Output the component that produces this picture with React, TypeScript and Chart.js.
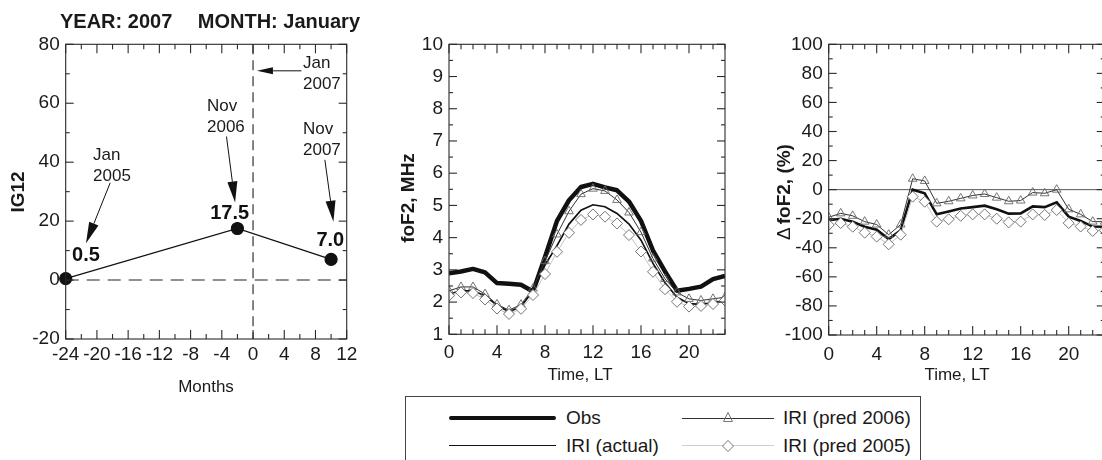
import React, { useEffect, useRef } from "react";
import { Chart, registerables } from "chart.js";

Chart.register(...registerables);

const FONT = "'Liberation Sans', Arial, Helvetica, sans-serif";

// ---------- Header ----------
const yearTitle = "YEAR: 2007";
const monthTitle = "MONTH: January";

// ---------- Panel 1: IG12 vs months ----------
const ig12Months = [-24, -2, 10];
const ig12Values = [0.5, 17.5, 7.0];
const ig12ValueText = ["0.5", "17.5", "7.0"];
const ig12ValueTextAt = [[-21.4, 8.2], [-3.0, 22.7], [9.9, 13.4]];
const ig12NoteLines = [["Jan", "2005"], ["Nov", "2006"], ["Jan", "2007"], ["Nov", "2007"]];
const ig12NoteAt = [[-20.5, 42.4], [-5.9, 58.8], [6.4, 73.7], [6.4, 51.3]];
const ig12ArrowFrom = [[-18.3, 33.0], [-3.4, 48.7], [6.2, 71.0], [9.2, 40.8]];
const ig12ArrowTo = [[-21.4, 12.5], [-2.3, 26.3], [0.5, 71.0], [10.3, 19.8]];

// ---------- Panel 2: foF2 ----------
const hours = [0, 1, 2, 3, 4, 5, 6, 7, 8, 9, 10, 11, 12, 13, 14, 15, 16, 17, 18, 19, 20, 21, 22, 23];
const foF2Obs = [2.89, 2.95, 3.03, 2.92, 2.59, 2.57, 2.54, 2.33, 3.4, 4.52, 5.16, 5.57, 5.67, 5.56, 5.47, 5.12, 4.52, 3.6, 2.95, 2.35, 2.41, 2.48, 2.71, 2.81];
const foF2Actual = [2.25, 2.35, 2.35, 2.2, 1.9, 1.7, 1.86, 2.35, 3.15, 3.75, 4.42, 4.85, 5.02, 4.96, 4.75, 4.42, 3.92, 3.2, 2.6, 2.15, 1.95, 1.93, 1.98, 2.05];
const foF2Pred2006 = [2.35, 2.47, 2.47, 2.25, 1.93, 1.75, 1.92, 2.42, 3.27, 4.1, 4.82, 5.35, 5.52, 5.45, 5.17, 4.78, 4.17, 3.35, 2.72, 2.3, 2.1, 2.05, 2.1, 2.15];
const foF2Pred2005 = [2.2, 2.3, 2.28, 2.08, 1.8, 1.63, 1.79, 2.22, 2.87, 3.56, 4.15, 4.55, 4.72, 4.65, 4.44, 4.08, 3.57, 2.94, 2.4, 2.01, 1.86, 1.88, 1.94, 2.05];

// ---------- Panel 3: delta foF2 (%) ----------
const dActual = [-21, -20, -22, -25.5, -27.5, -34, -28, 0, -2.5, -17, -15, -13, -12, -11, -13.5, -16.5, -16.3, -11.5, -12, -8.7, -18.6, -21.5, -25.4, -25.5];
const dPred2006 = [-19, -16.3, -18, -22, -24, -31, -24, 7.5, 6, -9.4, -8, -6, -4, -3, -5.5, -8, -7.5, -2, -2.5, 0, -13.5, -17, -22, -22];
const dPred2005 = [-24.3, -23, -25.5, -29.6, -32.3, -37.6, -31, -4.8, -8.3, -22, -20.4, -18, -17, -17, -20, -22.5, -22, -17, -17.4, -14, -23, -25.4, -28.4, -28];

// ---------- Legend ----------
const legendLabels = ["Obs", "IRI (actual)", "IRI (pred 2006)", "IRI (pred 2005)"];

const W = 1120;
const H = 460;

function pts(xs: number[], ys: number[]) {
  return xs.map((x, i) => ({ x, y: ys[i] }));
}

function line(ctx: CanvasRenderingContext2D, x1: number, y1: number, x2: number, y2: number) {
  ctx.beginPath();
  ctx.moveTo(x1, y1);
  ctx.lineTo(x2, y2);
  ctx.stroke();
}

function arrow(ctx: CanvasRenderingContext2D, x1: number, y1: number, x2: number, y2: number, len: number, hw: number) {
  const ang = Math.atan2(y2 - y1, x2 - x1);
  const bx = x2 - Math.cos(ang) * len;
  const by = y2 - Math.sin(ang) * len;
  line(ctx, x1, y1, bx, by);
  ctx.beginPath();
  ctx.moveTo(x2, y2);
  ctx.lineTo(bx + Math.sin(ang) * hw, by - Math.cos(ang) * hw);
  ctx.lineTo(bx - Math.sin(ang) * hw, by + Math.cos(ang) * hw);
  ctx.closePath();
  ctx.fill();
}

type Title = { parts: { text: string; bold: boolean }[]; x: number; y: number; rot?: boolean; size: number; align?: string };

function drawTitle(ctx: CanvasRenderingContext2D, t: Title) {
  ctx.save();
  ctx.fillStyle = "#1a1a1a";
  ctx.textBaseline = "middle";
  ctx.textAlign = "left";
  const fonts = t.parts.map((p) => `${p.bold ? "bold " : ""}${t.size}px ${FONT}`);
  const widths = t.parts.map((p, i) => {
    ctx.font = fonts[i];
    return ctx.measureText(p.text).width;
  });
  const gap = t.parts.length > 1 ? 3 : 0;
  const total = widths.reduce((a, b) => a + b, 0) + gap * (t.parts.length - 1);
  ctx.translate(t.x, t.y);
  if (t.rot) ctx.rotate(-Math.PI / 2);
  let start = -total / 2;
  if (t.align === "left") start = 0;
  if (t.align === "right") start = -total;
  t.parts.forEach((p, i) => {
    ctx.font = fonts[i];
    ctx.fillText(p.text, start, 0);
    start += widths[i] + gap;
  });
  ctx.restore();
}

type Deco = {
  id: string;
  xMinor: number;
  xMajor: number;
  yMinor: number;
  yMajor: number;
  titles: Title[];
  under?: (chart: any) => void;
  over?: (chart: any) => void;
};

function decoPlugin(d: Deco) {
  return {
    id: d.id,
    beforeDatasetsDraw(chart: any) {
      if (d.under) d.under(chart);
    },
    afterDatasetsDraw(chart: any) {
      const { ctx, chartArea: a, scales } = chart;
      const xs = scales.x;
      const ys = scales.y;
      ctx.save();
      ctx.strokeStyle = "#2a2a2a";
      ctx.lineWidth = 1.1;
      ctx.setLineDash([]);
      ctx.strokeRect(a.left, a.top, a.right - a.left, a.bottom - a.top);
      const isMajor = (v: number, m: number) => Math.abs(v / m - Math.round(v / m)) < 1e-6;
      const nx = Math.round((xs.max - xs.min) / d.xMinor);
      for (let i = 0; i <= nx; i++) {
        const v = xs.min + i * d.xMinor;
        const px = xs.getPixelForValue(v);
        const len = isMajor(v, d.xMajor) ? 9 : 5;
        line(ctx, px, a.bottom, px, a.bottom - len);
        line(ctx, px, a.top, px, a.top + len);
      }
      const ny = Math.round((ys.max - ys.min) / d.yMinor);
      for (let i = 0; i <= ny; i++) {
        const v = ys.min + i * d.yMinor;
        const py = ys.getPixelForValue(v);
        const len = isMajor(v, d.yMajor) ? 8 : 4;
        line(ctx, a.left, py, a.left + len, py);
        line(ctx, a.right, py, a.right - len, py);
      }
      ctx.restore();
      if (d.over) d.over(chart);
    },
    afterDraw(chart: any) {
      d.titles.forEach((t) => drawTitle(chart.ctx, t));
    },
  };
}

function scalesFor(xMin: number, xMax: number, xStep: number, xPad: number, yMin: number, yMax: number, yStep: number) {
  const tickFont = { family: FONT, size: 19 };
  return {
    x: {
      type: "linear",
      position: "bottom",
      min: xMin,
      max: xMax,
      afterFit: (s: any) => {
        s.height = 40;
      },
      grid: { display: false, drawTicks: false },
      border: { display: false },
      ticks: {
        stepSize: xStep,
        includeBounds: false,
        autoSkip: false,
        maxRotation: 0,
        padding: xPad,
        color: "#1a1a1a",
        font: tickFont,
        callback: (v: any) => String(v),
      },
    },
    y: {
      type: "linear",
      position: "left",
      min: yMin,
      max: yMax,
      afterFit: (s: any) => {
        s.width = 60;
      },
      grid: { display: false, drawTicks: false },
      border: { display: false },
      ticks: {
        stepSize: yStep,
        includeBounds: false,
        autoSkip: false,
        padding: 6,
        color: "#1a1a1a",
        font: tickFont,
        callback: (v: any) => String(v),
      },
    },
  };
}

function baseOptions(pad: { left: number; right: number; top: number; bottom: number }, scales: any) {
  return {
    responsive: false,
    animation: false,
    events: [],
    layout: { padding: pad },
    plugins: { legend: { display: false }, tooltip: { enabled: false } },
    elements: { line: { tension: 0 } },
    scales,
  };
}

function ig12Config(): any {
  const deco = decoPlugin({
    id: "ig12deco",
    xMinor: 2,
    xMajor: 4,
    yMinor: 10,
    yMajor: 20,
    titles: [
      { parts: [{ text: yearTitle, bold: true }], x: 60, y: 22, size: 20, align: "left" },
      { parts: [{ text: monthTitle, bold: true }], x: 360, y: 22, size: 20, align: "right" },
      { parts: [{ text: "IG12", bold: true }], x: 19, y: 192, rot: true, size: 19 },
      { parts: [{ text: "Months", bold: false }], x: 206, y: 387, size: 17 },
    ],
    under: (chart: any) => {
      const { ctx, chartArea: a, scales } = chart;
      ctx.save();
      ctx.strokeStyle = "#222";
      ctx.lineWidth = 1.1;
      ctx.setLineDash([13, 8]);
      const y0 = scales.y.getPixelForValue(0);
      line(ctx, a.left, y0, a.right, y0);
      ctx.setLineDash([10, 6]);
      const x0 = scales.x.getPixelForValue(0);
      line(ctx, x0, a.top, x0, a.bottom);
      ctx.restore();
    },
    over: (chart: any) => {
      const { ctx, scales } = chart;
      const px = (p: number[]) => [scales.x.getPixelForValue(p[0]), scales.y.getPixelForValue(p[1])];
      ctx.save();
      ctx.fillStyle = "#111";
      ctx.strokeStyle = "#111";
      ctx.lineWidth = 1;
      ctx.textBaseline = "middle";
      ctx.textAlign = "center";
      ctx.font = `bold 20px ${FONT}`;
      ig12ValueText.forEach((t, i) => {
        const [x, y] = px(ig12ValueTextAt[i]);
        ctx.fillText(t, x, y);
      });
      ctx.font = `17px ${FONT}`;
      ctx.textAlign = "left";
      ctx.fillStyle = "#1a1a1a";
      ig12NoteLines.forEach((ls, i) => {
        const [x, y] = px(ig12NoteAt[i]);
        ls.forEach((t, j) => ctx.fillText(t, x, y + j * 21));
      });
      ctx.fillStyle = "#111";
      ig12ArrowFrom.forEach((f, i) => {
        const [x1, y1] = px(f);
        const [x2, y2] = px(ig12ArrowTo[i]);
        const horiz = Math.abs(y2 - y1) < 2;
        arrow(ctx, x1, y1, x2, y2, horiz ? 16 : 21, horiz ? 3.5 : 5);
      });
      ctx.restore();
    },
  });
  return {
    type: "line",
    data: {
      datasets: [
        {
          label: "IG12",
          data: pts(ig12Months, ig12Values),
          borderColor: "#111",
          borderWidth: 1.2,
          pointRadius: 6,
          pointBackgroundColor: "#111",
          pointBorderColor: "#111",
          clip: false,
        },
      ],
    },
    options: baseOptions(
      { left: 5.7, right: W - 346.7, top: 44.3, bottom: H - 339 - 40 },
      scalesFor(-24, 12, 4, 4, -20, 80, 20)
    ),
    plugins: [deco],
  };
}

function seriesStyles() {
  return {
    pred2005: {
      borderColor: "#c4c4c4",
      borderWidth: 1,
      pointStyle: "rectRot",
      pointRadius: 5.5,
      pointBorderColor: "#666",
      pointBackgroundColor: "#fff",
      pointBorderWidth: 0.9,
    },
    pred2006: {
      borderColor: "#333",
      borderWidth: 1,
      pointStyle: "triangle",
      pointRadius: 5,
      pointBorderColor: "#666",
      pointBackgroundColor: "rgba(255,255,255,0)",
      pointBorderWidth: 0.9,
    },
  };
}

function foF2Config(): any {
  const st = seriesStyles();
  const deco = decoPlugin({
    id: "fof2deco",
    xMinor: 1,
    xMajor: 4,
    yMinor: 0.5,
    yMajor: 1,
    titles: [
      { parts: [{ text: "foF2, MHz", bold: true }], x: 409, y: 198, rot: true, size: 19 },
      { parts: [{ text: "Time, LT", bold: false }], x: 580, y: 375, size: 17 },
    ],
  });
  return {
    type: "line",
    data: {
      datasets: [
        { label: legendLabels[3], data: pts(hours, foF2Pred2005), ...st.pred2005 },
        { label: legendLabels[2], data: pts(hours, foF2Pred2006), ...st.pred2006 },
        { label: legendLabels[1], data: pts(hours, foF2Actual), borderColor: "#111", borderWidth: 1.7, pointRadius: 0 },
        { label: legendLabels[0], data: pts(hours, foF2Obs), borderColor: "#111", borderWidth: 4.5, pointRadius: 0, borderJoinStyle: "round" },
      ],
    },
    options: baseOptions(
      { left: 449 - 60, right: W - 725, top: 44.3, bottom: H - 334.3 - 40 },
      scalesFor(0, 23, 4, 7, 1, 10, 1)
    ),
    plugins: [deco],
  };
}

function deltaConfig(): any {
  const st = seriesStyles();
  const deco = decoPlugin({
    id: "deltadeco",
    xMinor: 1,
    xMajor: 4,
    yMinor: 10,
    yMajor: 20,
    titles: [
      {
        parts: [
          { text: "\u0394", bold: false },
          { text: "foF2, (%)", bold: true },
        ],
        x: 785,
        y: 192,
        rot: true,
        size: 19,
      },
      { parts: [{ text: "Time, LT", bold: false }], x: 957, y: 375, size: 17 },
    ],
    under: (chart: any) => {
      const { ctx, chartArea: a, scales } = chart;
      ctx.save();
      ctx.strokeStyle = "#555";
      ctx.lineWidth = 1;
      const y0 = scales.y.getPixelForValue(0);
      line(ctx, a.left, y0, a.right, y0);
      ctx.restore();
    },
  });
  return {
    type: "line",
    data: {
      datasets: [
        { label: legendLabels[3], data: pts(hours, dPred2005), ...st.pred2005 },
        { label: legendLabels[2], data: pts(hours, dPred2006), ...st.pred2006 },
        { label: legendLabels[1], data: pts(hours, dActual), borderColor: "#111", borderWidth: 2.6, pointRadius: 0 },
      ],
    },
    options: baseOptions(
      { left: 828.7 - 60, right: W - 1104.7, top: 44.3, bottom: H - 335 - 40 },
      scalesFor(0, 23, 4, 8, -100, 100, 20)
    ),
    plugins: [deco],
  };
}

const canvasStyle: React.CSSProperties = { position: "absolute", left: 0, top: 0, width: W, height: H };

function Legend() {
  const txt = (left: number, cy: number, s: string) => (
    <div
      style={{
        position: "absolute",
        left,
        top: cy - 12,
        height: 24,
        lineHeight: "24px",
        whiteSpace: "nowrap",
      }}
    >
      {s}
    </div>
  );
  const bar = (left: number, width: number, cy: number, h: number, color: string) => (
    <div
      style={{
        position: "absolute",
        left,
        width,
        top: cy - h / 2,
        height: h,
        background: color,
        borderRadius: h > 2 ? h / 2 : 0,
      }}
    />
  );
  const r1 = 21;
  const r2 = 48.5;
  return (
    <div
      style={{
        position: "absolute",
        left: 405,
        top: 396,
        width: 516,
        height: 80,
        border: "1px solid #444",
        boxSizing: "border-box",
        background: "#fff",
        fontFamily: FONT,
        fontSize: 19,
        color: "#1a1a1a",
      }}
    >
      {bar(43, 107, r1, 4.5, "#111")}
      {txt(160, r1, legendLabels[0])}
      {bar(43, 107, r2, 1.6, "#111")}
      {txt(160, r2, legendLabels[1])}
      {bar(276, 92, r1, 1, "#333")}
      <svg style={{ position: "absolute", left: 322 - 8, top: r1 - 8 }} width={16} height={16}>
        <polygon points="8,2.5 12.5,11.5 3.5,11.5" fill="none" stroke="#666" strokeWidth={0.9} />
      </svg>
      {txt(377, r1, legendLabels[2])}
      {bar(276, 92, r2, 1, "#cfcfcf")}
      <svg style={{ position: "absolute", left: 322 - 8, top: r2 - 8 }} width={16} height={16}>
        <polygon points="8,2.5 13.5,8 8,13.5 2.5,8" fill="#fff" stroke="#666" strokeWidth={0.9} />
      </svg>
      {txt(377, r2, legendLabels[3])}
    </div>
  );
}

export default function App() {
  const c1 = useRef<HTMLCanvasElement>(null);
  const c2 = useRef<HTMLCanvasElement>(null);
  const c3 = useRef<HTMLCanvasElement>(null);

  useEffect(() => {
    const charts = [
      new Chart(c1.current as HTMLCanvasElement, ig12Config()),
      new Chart(c2.current as HTMLCanvasElement, foF2Config()),
      new Chart(c3.current as HTMLCanvasElement, deltaConfig()),
    ];
    return () => charts.forEach((c) => c.destroy());
  }, []);

  return (
    <div
      style={{
        position: "fixed",
        left: 0,
        top: 0,
        width: 1102,
        height: 460,
        overflow: "hidden",
        background: "#fff",
      }}
    >
      <canvas ref={c1} width={W} height={H} style={canvasStyle} />
      <canvas ref={c2} width={W} height={H} style={canvasStyle} />
      <canvas ref={c3} width={W} height={H} style={canvasStyle} />
      <Legend />
    </div>
  );
}
